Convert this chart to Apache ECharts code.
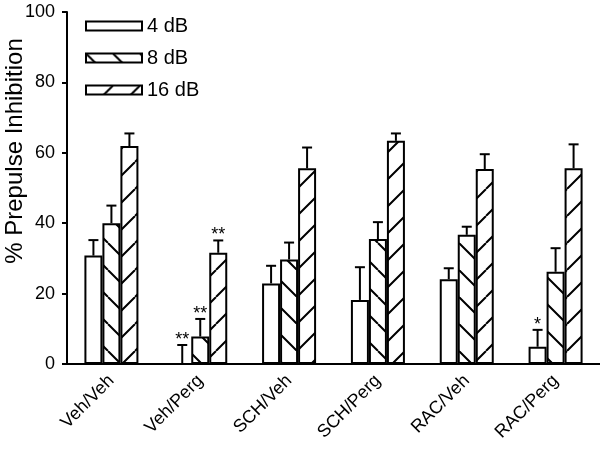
<!DOCTYPE html>
<html>
<head>
<meta charset="utf-8">
<script src="https://cdn.jsdelivr.net/npm/echarts@6/dist/echarts.min.js"></script>
<style>
html,body{margin:0;padding:0;background:#fff;}
#chart{width:600px;height:449px;}
</style>
</head>
<body>
<div id="chart"></div>
<script>
var categories = ['Veh/Veh', 'Veh/Perg', 'SCH/Veh', 'SCH/Perg', 'RAC/Veh', 'RAC/Perg'];
var seriesNames = ['4 dB', '8 dB', '16 dB'];
var db4 = [30.8, 0, 22.9, 18.2, 24.1, 4.9];
var db4Err = [4.4, 5.4, 5.0, 9.3, 3.1, 4.8];
var db4Stars = ['', '**', '', '', '', '*'];
var db8 = [40.0, 7.8, 29.7, 35.5, 36.7, 26.2];
var db8Err = [5.0, 5.0, 4.8, 4.8, 2.3, 6.7];
var db8Stars = ['', '**', '', '', '', ''];
var db16 = [61.9, 31.6, 55.6, 63.4, 55.4, 55.6];
var db16Err = [3.6, 3.5, 5.9, 2.1, 4.2, 6.8];
var db16Stars = ['', '**', '', '', '', ''];
var yTicks = [0, 20, 40, 60, 80, 100];

var FONT = 'Liberation Sans';
var BAR_W = 18;

function hatch(dir) {
  var s = 27;
  var c = document.createElement('canvas');
  c.width = s; c.height = s;
  var ctx = c.getContext('2d');
  ctx.fillStyle = '#fff';
  ctx.fillRect(0, 0, s, s);
  ctx.strokeStyle = '#000';
  ctx.lineWidth = 2;
  ctx.beginPath();
  for (var k = -s; k <= s; k += s) {
    if (dir === '/') { ctx.moveTo(k, s); ctx.lineTo(k + s, 0); }
    else { ctx.moveTo(k, 0); ctx.lineTo(k + s, s); }
  }
  ctx.stroke();
  return { image: c, repeat: 'repeat' };
}

var fills = ['#ffffff', hatch('\\'), hatch('/')];
var values = [db4, db8, db16];
var errs = [db4Err, db8Err, db16Err];
var stars = [db4Stars, db8Stars, db16Stars];
var offsets = [-BAR_W, 0, BAR_W];

var series = [];
for (var i = 0; i < 3; i++) {
  series.push({
    name: seriesNames[i],
    type: 'bar',
    barWidth: BAR_W,
    barGap: '0%',
    data: values[i],
    itemStyle: { color: fills[i], borderColor: '#000', borderWidth: 2 },
    z: 2
  });
}
for (var j = 0; j < 3; j++) {
  (function (j) {
    var d = categories.map(function (c, k) { return [k, values[j][k], errs[j][k]]; });
    series.push({
      name: 'err' + j,
      type: 'custom',
      coordinateSystem: 'cartesian2d',
      encode: { x: 0, y: 1 },
      z: 5,
      silent: true,
      data: d,
      renderItem: function (params, api) {
        var k = api.value(0), v = api.value(1), e = api.value(2);
        var p0 = api.coord([k, v]);
        var p1 = api.coord([k, v + e]);
        var x = p0[0] + offsets[j];
        var children = [
          { type: 'line', shape: { x1: x, y1: p0[1], x2: x, y2: p1[1] }, style: { stroke: '#000', lineWidth: 2 } },
          { type: 'line', shape: { x1: x - 5, y1: p1[1], x2: x + 5, y2: p1[1] }, style: { stroke: '#000', lineWidth: 2 } }
        ];
        var st = stars[j][params.dataIndex];
        if (st) {
          children.push({ type: 'text', style: { text: st, x: x, y: p1[1] + 4, align: 'center', verticalAlign: 'bottom', font: '18px ' + FONT, fill: '#000' } });
        }
        return { type: 'group', children: children };
      }
    });
  })(j);
}

var chart = echarts.init(document.getElementById('chart'), null, { renderer: 'canvas' });
chart.setOption({
  backgroundColor: '#fff',
  animation: false,
  textStyle: { fontFamily: FONT },
  grid: { left: 67, right: 0, top: 12, bottom: 85, containLabel: false, outerBoundsMode: 'none' },
  legend: {
    data: seriesNames,
    orient: 'vertical',
    left: 85,
    top: 16,
    padding: 0,
    itemWidth: 56,
    itemHeight: 9,
    itemGap: 12,
    icon: 'rect',
    itemStyle: { borderColor: '#000', borderWidth: 2 },
    textStyle: { fontSize: 20, color: '#000', fontFamily: FONT }
  },
  xAxis: {
    type: 'category',
    data: categories,
    axisLine: { lineStyle: { color: '#000', width: 2 } },
    axisTick: { alignWithLabel: true, length: 6, lineStyle: { color: '#000', width: 2 } },
    axisLabel: { rotate: 45, fontSize: 18, color: '#000', margin: 14, fontFamily: FONT, interval: 0 },
    splitLine: { show: false }
  },
  yAxis: {
    type: 'value',
    min: yTicks[0],
    max: yTicks[yTicks.length - 1],
    interval: 20,
    name: '% Prepulse Inhibition',
    nameLocation: 'middle',
    nameGap: 40,
    nameMoveOverlap: false,
    nameTextStyle: { fontSize: 24, color: '#000', fontFamily: FONT, padding: [0, 0, 0, 74] },
    axisLine: { show: true, lineStyle: { color: '#000', width: 2 } },
    axisTick: { show: true, length: 5, lineStyle: { color: '#000', width: 2 } },
    axisLabel: { fontSize: 18, color: '#000', margin: 12, fontFamily: FONT },
    splitLine: { show: false }
  },
  series: series
});
</script>
</body>
</html>
